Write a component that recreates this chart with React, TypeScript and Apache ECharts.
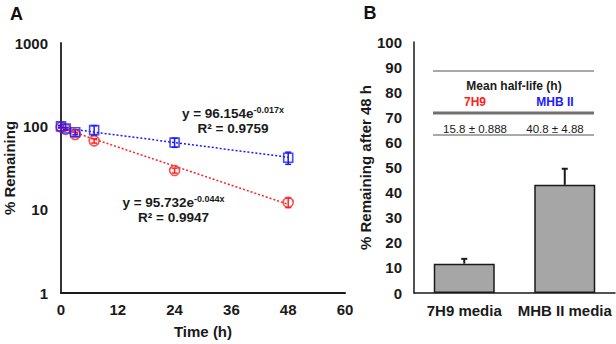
import React, { useEffect, useRef } from "react";
import * as echarts from "echarts";

// Panel A: % remaining over time (log scale), mean and error per time point
const TIMES = [0, 1, 3, 7, 24, 48];
const MHB_MEAN = [100, 94, 85, 90, 64, 42];
const MHB_ERR = [3, 3, 6, 12, 8, 7];
const H9_MEAN = [98, 92, 80, 67, 29.5, 12.2];
const H9_ERR = [3, 3, 5, 4, 2, 1.6];

// Exponential fits y = a * e^(b x)
const MHB_FIT = { a: 96.154, b: -0.017, r2: "0.9759" };
const H9_FIT = { a: 95.732, b: -0.044, r2: "0.9947" };
const FIT_RANGE = [0, 48];

const X_TICKS = [0, 12, 24, 36, 48, 60];

// Panel B: % remaining after 48 h
const MEDIA = ["7H9 media", "MHB II media"];
const REMAIN_48 = [11.7, 43.1];
const REMAIN_48_ERR = [1.9, 6.4];

// Half-life summary table
const HALF_LIFE_COLS = ["7H9", "MHB II"];
const HALF_LIFE_VALS = ["15.8 ± 0.888", "40.8 ± 4.88"];

const FONT = "'Liberation Sans', Arial, sans-serif";
const RED = "#ff2020";
const BLUE = "#1a1aff";

function errRows(mean: number[], err: number[]) {
  return TIMES.map((t, i) => [t, mean[i] - err[i], mean[i] + err[i]]);
}

function fitLine(fit: { a: number; b: number }) {
  return FIT_RANGE.map((t) => [t, fit.a * Math.exp(fit.b * t)]);
}

function errorBarRenderer(color: string, cap: number, upperOnly: boolean) {
  return (params: any, api: any) => {
    const x = api.value(0);
    const lo = api.coord([x, api.value(1)]);
    const hi = api.coord([x, api.value(2)]);
    const style = { stroke: color, lineWidth: upperOnly ? 2 : 1.5 };
    const children: any[] = [
      { type: "line", shape: { x1: lo[0], y1: lo[1], x2: hi[0], y2: hi[1] }, style },
      { type: "line", shape: { x1: hi[0] - cap, y1: hi[1], x2: hi[0] + cap, y2: hi[1] }, style },
    ];
    if (!upperOnly) {
      children.push({
        type: "line",
        shape: { x1: lo[0] - cap, y1: lo[1], x2: lo[0] + cap, y2: lo[1] },
        style,
      });
    }
    return { type: "group", children };
  };
}

function equationText(fit: { a: number; b: number; r2: string }, cx: number, cy: number) {
  return [
    {
      type: "text",
      x: cx,
      y: cy,
      style: {
        text: `{b|y = ${fit.a.toFixed(3)}e}{s|${fit.b.toFixed(3)}x}`,
        align: "center",
        verticalAlign: "middle",
        rich: {
          b: { fontFamily: FONT, fontWeight: "bold", fontSize: 13.5, fill: "#1a1a1a" },
          s: {
            fontFamily: FONT,
            fontWeight: "bold",
            fontSize: 9,
            fill: "#1a1a1a",
            padding: [0, 0, 7, 0],
          },
        },
      },
    },
    {
      type: "text",
      x: cx,
      y: cy + 15,
      style: {
        text: `R² = ${fit.r2}`,
        align: "center",
        verticalAlign: "middle",
        fontFamily: FONT,
        fontWeight: "bold",
        fontSize: 13.5,
        fill: "#1a1a1a",
      },
    },
  ];
}

export default function App() {
  const ref = useRef<HTMLDivElement>(null);

  useEffect(() => {
    if (!ref.current) return;
    const chart = echarts.init(ref.current, null, { renderer: "svg" });

    const axisLabel = { fontFamily: FONT, fontWeight: "bold", fontSize: 15, color: "#1a1a1a" };
    const axisName = { fontFamily: FONT, fontWeight: "bold", fontSize: 15, color: "#1a1a1a" };
    const tableLine = (y: number, w: number, color: string) => ({
      type: "line",
      shape: { x1: 433, y1: y, x2: 594, y2: y },
      style: { stroke: color, lineWidth: w },
    });

    chart.setOption({
      animation: false,
      textStyle: { fontFamily: FONT },
      grid: [
        {
          left: 61,
          top: 43,
          width: 284,
          height: 250,
          containLabel: false,
          outerBoundsMode: "none",
        },
        {
          left: 414,
          top: 42,
          width: 201,
          height: 251,
          containLabel: false,
          outerBoundsMode: "none",
        },
      ],
      xAxis: [
        {
          gridIndex: 0,
          type: "value",
          min: 0,
          max: 60,
          interval: 12,
          name: "Time (h)",
          nameLocation: "middle",
          nameGap: 31,
          nameMoveOverlap: false,
          nameTextStyle: axisName,
          axisLine: { lineStyle: { color: "#1a1a1a", width: 2 } },
          axisTick: { show: false },
          splitLine: { show: false },
          axisLabel: {
            ...axisLabel,
            margin: 9,
            formatter: (v: number) => (X_TICKS.includes(v) ? String(v) : ""),
          },
        },
        {
          gridIndex: 1,
          type: "category",
          data: MEDIA,
          axisLine: { lineStyle: { color: "#1a1a1a", width: 1.5 } },
          axisTick: { show: false },
          axisLabel: { ...axisLabel, margin: 10, interval: 0 },
        },
      ],
      yAxis: [
        {
          gridIndex: 0,
          type: "log",
          logBase: 10,
          min: 1,
          max: 1000,
          name: "% Remaining",
          nameLocation: "middle",
          nameGap: 44,
          nameMoveOverlap: false,
          nameTextStyle: axisName,
          axisLine: { show: true, lineStyle: { color: "#333", width: 2 } },
          axisTick: { show: false },
          splitLine: { show: false },
          minorSplitLine: { show: false },
          axisLabel: { ...axisLabel, margin: 13, formatter: (v: number) => String(v) },
        },
        {
          gridIndex: 1,
          type: "value",
          min: 0,
          max: 100,
          interval: 10,
          name: "% Remaining after 48 h",
          nameLocation: "middle",
          nameGap: 41,
          nameMoveOverlap: false,
          nameTextStyle: axisName,
          axisLine: { show: true, lineStyle: { color: "#1a1a1a", width: 1.5 } },
          axisTick: { show: false },
          splitLine: { show: false },
          axisLabel: { ...axisLabel, margin: 12 },
        },
      ],
      series: [
        // trend lines
        {
          type: "line",
          xAxisIndex: 0,
          yAxisIndex: 0,
          data: fitLine(MHB_FIT),
          showSymbol: false,
          lineStyle: { color: BLUE, width: 1.5, type: [2, 2] },
          z: 1,
        },
        {
          type: "line",
          xAxisIndex: 0,
          yAxisIndex: 0,
          data: fitLine(H9_FIT),
          showSymbol: false,
          lineStyle: { color: RED, width: 1.5, type: [2, 2] },
          z: 1,
        },
        // error bars
        {
          type: "custom",
          xAxisIndex: 0,
          yAxisIndex: 0,
          data: errRows(H9_MEAN, H9_ERR),
          encode: { x: 0, y: [1, 2] },
          renderItem: errorBarRenderer(RED, 3, false),
          z: 3,
        },
        {
          type: "custom",
          xAxisIndex: 0,
          yAxisIndex: 0,
          data: errRows(MHB_MEAN, MHB_ERR),
          encode: { x: 0, y: [1, 2] },
          renderItem: errorBarRenderer(BLUE, 3, false),
          z: 3,
        },
        // measured points
        {
          type: "scatter",
          xAxisIndex: 0,
          yAxisIndex: 0,
          data: TIMES.map((t, i) => [t, H9_MEAN[i]]),
          symbol: "circle",
          symbolSize: 10,
          itemStyle: { color: "rgba(255,255,255,0)", borderColor: RED, borderWidth: 1.6 },
          z: 4,
        },
        {
          type: "scatter",
          xAxisIndex: 0,
          yAxisIndex: 0,
          data: TIMES.map((t, i) => [t, MHB_MEAN[i]]),
          symbol: "rect",
          symbolSize: 9,
          itemStyle: { color: "rgba(255,255,255,0)", borderColor: BLUE, borderWidth: 1.6 },
          z: 5,
        },
        // panel B bars
        {
          type: "bar",
          xAxisIndex: 1,
          yAxisIndex: 1,
          data: REMAIN_48,
          barWidth: 61,
          itemStyle: { color: "#a6a6a6", borderColor: "#1a1a1a", borderWidth: 1.5 },
          z: 2,
        },
        {
          type: "custom",
          xAxisIndex: 1,
          yAxisIndex: 1,
          data: REMAIN_48.map((v, i) => [i, v, v + REMAIN_48_ERR[i]]),
          encode: { x: 0, y: [1, 2] },
          renderItem: errorBarRenderer("#1a1a1a", 3, true),
          z: 1,
        },
      ],
      graphic: [
        {
          type: "text",
          x: 16.5,
          y: 13.5,
          style: {
            text: "A",
            align: "center",
            verticalAlign: "middle",
            fontFamily: FONT,
            fontWeight: "bold",
            fontSize: 18,
            fill: "#111",
          },
        },
        {
          type: "text",
          x: 370,
          y: 13,
          style: {
            text: "B",
            align: "center",
            verticalAlign: "middle",
            fontFamily: FONT,
            fontWeight: "bold",
            fontSize: 18,
            fill: "#111",
          },
        },
        ...equationText(MHB_FIT, 233, 113),
        ...equationText(H9_FIT, 173.5, 202),
        // half-life table
        tableLine(71, 1.5, "#8c8c8c"),
        tableLine(113, 3, "#707070"),
        tableLine(135, 1.5, "#8c8c8c"),
        {
          type: "text",
          x: 514,
          y: 86,
          style: {
            text: "Mean half-life (h)",
            align: "center",
            verticalAlign: "middle",
            fontFamily: FONT,
            fontWeight: "bold",
            fontSize: 12,
            fill: "#1a1a1a",
          },
        },
        ...HALF_LIFE_COLS.map((c, i) => ({
          type: "text",
          x: i === 0 ? 475 : 555,
          y: 102,
          style: {
            text: c,
            align: "center",
            verticalAlign: "middle",
            fontFamily: FONT,
            fontWeight: "bold",
            fontSize: 12,
            fill: i === 0 ? RED : BLUE,
          },
        })),
        ...HALF_LIFE_VALS.map((v, i) => ({
          type: "text",
          x: i === 0 ? 475 : 555,
          y: 129,
          style: {
            text: v,
            align: "center",
            verticalAlign: "middle",
            fontFamily: FONT,
            fontSize: 11.5,
            fill: "#1a1a1a",
          },
        })),
      ],
    });

    return () => chart.dispose();
  }, []);

  return (
    <div
      ref={ref}
      style={{ position: "fixed", left: 0, top: 0, width: 616, height: 344, background: "#fff" }}
    />
  );
}
